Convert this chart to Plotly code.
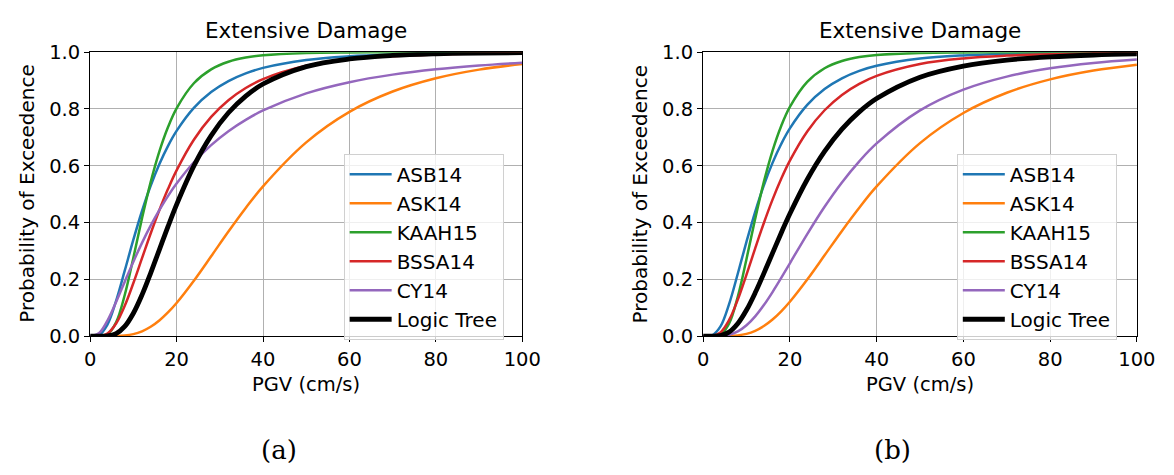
import plotly.graph_objects as go

# PGV sample points (cm/s)
pgv = [0, 2, 4, 6, 8, 10, 12, 14, 16, 18, 20, 24, 28, 32, 36, 40, 50, 60, 70, 80, 90, 100]

# (a) probabilities of exceedence
asb14_a = [0, 0.0030, 0.0408, 0.1243, 0.2306, 0.3398, 0.4408, 0.5296, 0.6056, 0.6695, 0.7228,
           0.8039, 0.8597, 0.8984, 0.9255, 0.9448, 0.9725, 0.9855, 0.9920, 0.9953, 0.9972, 0.9983]
ask14_a = [0, 0, 0.0000, 0.0004, 0.0021, 0.0071, 0.0170, 0.0330, 0.0552, 0.0835, 0.1168,
           0.1951, 0.2813, 0.3684, 0.4514, 0.5277, 0.6826, 0.7900, 0.8615, 0.9082, 0.9387, 0.9587]
kaah15_a = [0, 0.0000, 0.0062, 0.0487, 0.1448, 0.2762, 0.4152, 0.5426, 0.6499, 0.7357, 0.8023,
            0.8906, 0.9395, 0.9663, 0.9810, 0.9891, 0.9971, 0.9992, 0.9997, 0.9999, 1.0, 1.0]
bssa14_a = [0, 0.0003, 0.0096, 0.0447, 0.1070, 0.1872, 0.2746, 0.3617, 0.4434, 0.5179, 0.5839,
            0.6919, 0.7722, 0.8310, 0.8739, 0.9053, 0.9522, 0.9748, 0.9861, 0.9921, 0.9953, 0.9972]
cy14_a = [0, 0.0099, 0.0547, 0.1202, 0.1919, 0.2624, 0.3285, 0.3890, 0.4439, 0.4931, 0.5372,
          0.6124, 0.6728, 0.7218, 0.7618, 0.7948, 0.8550, 0.8944, 0.9210, 0.9398, 0.9532, 0.9631]
logic_a = [0, 0.0000, 0.0009, 0.0090, 0.0343, 0.0808, 0.1455, 0.2221, 0.3040, 0.3855, 0.4633,
           0.5995, 0.7064, 0.7867, 0.8454, 0.8880, 0.9492, 0.9762, 0.9885, 0.9942, 0.9970, 0.9984]

# (b) probabilities of exceedence
asb14_b = [0, 0.0020, 0.0344, 0.1139, 0.2206, 0.3329, 0.4380, 0.5310, 0.6103, 0.6767, 0.7317,
           0.8144, 0.8703, 0.9082, 0.9343, 0.9524, 0.9776, 0.9888, 0.9941, 0.9967, 0.9981, 0.9989]
ask14_b = [0, 0, 0.0000, 0.0005, 0.0025, 0.0080, 0.0187, 0.0355, 0.0584, 0.0873, 0.1211,
           0.1994, 0.2848, 0.3707, 0.4522, 0.5272, 0.6797, 0.7858, 0.8571, 0.9042, 0.9353, 0.9558]
kaah15_b = [0, 0.0000, 0.0053, 0.0451, 0.1397, 0.2720, 0.4133, 0.5434, 0.6529, 0.7402, 0.8073,
            0.8954, 0.9434, 0.9691, 0.9830, 0.9904, 0.9976, 0.9993, 0.9998, 0.9999, 1.0, 1.0]
bssa14_b = [0, 0.0005, 0.0134, 0.0570, 0.1290, 0.2170, 0.3093, 0.3986, 0.4808, 0.5541, 0.6181,
            0.7209, 0.7956, 0.8497, 0.8886, 0.9168, 0.9584, 0.9782, 0.9880, 0.9932, 0.9960, 0.9976]
cy14_b = [0, 0.0000, 0.0006, 0.0047, 0.0165, 0.0382, 0.0697, 0.1095, 0.1553, 0.2050, 0.2565,
          0.3594, 0.4558, 0.5414, 0.6156, 0.6787, 0.7950, 0.8682, 0.9141, 0.9432, 0.9618, 0.9739]
logic_b = [0, 0.0000, 0.0021, 0.0146, 0.0445, 0.0919, 0.1526, 0.2212, 0.2925, 0.3634, 0.4309,
           0.5517, 0.6505, 0.7289, 0.7898, 0.8368, 0.9120, 0.9512, 0.9722, 0.9837, 0.9902, 0.9939]

model_names = ["ASB14", "ASK14", "KAAH15", "BSSA14", "CY14", "Logic Tree"]
model_colors = ["#1f77b4", "#ff7f0e", "#2ca02c", "#d62728", "#9467bd", "#000000"]
model_widths = [2.5, 2.5, 2.5, 2.5, 2.5, 4.8]

panels = [
    ("x", "y", "legend", [asb14_a, ask14_a, kaah15_a, bssa14_a, cy14_a, logic_a]),
    ("x2", "y2", "legend2", [asb14_b, ask14_b, kaah15_b, bssa14_b, cy14_b, logic_b]),
]

FONT = "DejaVu Sans"
W, H = 1174, 475


def px(x):
    return x / W


def py(y):
    return 1 - y / H


fig = go.Figure()
for xa, ya, leg, series in panels:
    for name, color, width, vals in zip(model_names, model_colors, model_widths, series):
        fig.add_trace(go.Scatter(
            x=pgv, y=vals, name=name, mode="lines",
            line=dict(color=color, width=width, shape="spline", smoothing=1.0),
            xaxis=xa, yaxis=ya, legend=leg,
        ))

# axes boxes in pixels
left_box = (86, 527.5)
right_box = (712.3, 1155.5)
top_px, bot_px = 43.3, 341.7
ydom = [py(bot_px), py(top_px)]

axis_common = dict(showgrid=True, gridcolor="#b0b0b0", gridwidth=1.2, showline=True,
                   linecolor="black", linewidth=1.2, mirror=True, ticks="outside", ticklen=5,
                   tickwidth=1.2, tickcolor="black", zeroline=False,
                   tickfont=dict(family=FONT, size=19.5, color="black"))
common_x = dict(range=[0, 100], tickvals=[0, 20, 40, 60, 80, 100], **axis_common)
common_y = dict(range=[0, 1.0], tickvals=[0, 0.2, 0.4, 0.6, 0.8, 1.0], tickformat=".1f",
                **axis_common)

legend_common = dict(bgcolor="rgba(255,255,255,0.8)", bordercolor="#d0d0d0", borderwidth=1,
                     font=dict(family=FONT, size=20, color="black"), itemwidth=42,
                     xanchor="left", yanchor="top", tracegroupgap=0)

fig.update_layout(
    width=W, height=H,
    margin=dict(l=0, r=0, t=0, b=0),
    paper_bgcolor="white", plot_bgcolor="white",
    xaxis=dict(domain=[px(left_box[0]), px(left_box[1])], anchor="y", **common_x),
    yaxis=dict(domain=ydom, anchor="x", **common_y),
    xaxis2=dict(domain=[px(right_box[0]), px(right_box[1])], anchor="y2", **common_x),
    yaxis2=dict(domain=ydom, anchor="x2", **common_y),
    legend=dict(x=px(345), y=py(150), **legend_common),
    legend2=dict(x=px(971.5), y=py(150), **legend_common),
)

annotations = []
for (x0, x1), cap, cap_x, ylab_x in [(left_box, "(a)", 279, 22), (right_box, "(b)", 906, 648)]:
    cx = px((x0 + x1) / 2)
    annotations.append(dict(text="Extensive Damage", x=cx, y=py(20), xref="paper", yref="paper",
                            showarrow=False, xanchor="center", yanchor="middle",
                            font=dict(family=FONT, size=21.5, color="black")))
    annotations.append(dict(text="PGV (cm/s)", x=cx, y=py(392), xref="paper", yref="paper",
                            showarrow=False, xanchor="center", yanchor="middle",
                            font=dict(family=FONT, size=19.5, color="black")))
    annotations.append(dict(text="Probability of Exceedence", x=px(ylab_x),
                            y=py((top_px + bot_px) / 2), xref="paper", yref="paper",
                            showarrow=False, xanchor="center", yanchor="middle", textangle=-90,
                            font=dict(family=FONT, size=20, color="black")))
    annotations.append(dict(text=cap, x=px(cap_x), y=py(461), xref="paper", yref="paper",
                            showarrow=False, xanchor="center", yanchor="middle",
                            font=dict(family="DejaVu Serif", size=26, color="black")))
fig.update_layout(annotations=annotations)

fig.write_html("out.html")
